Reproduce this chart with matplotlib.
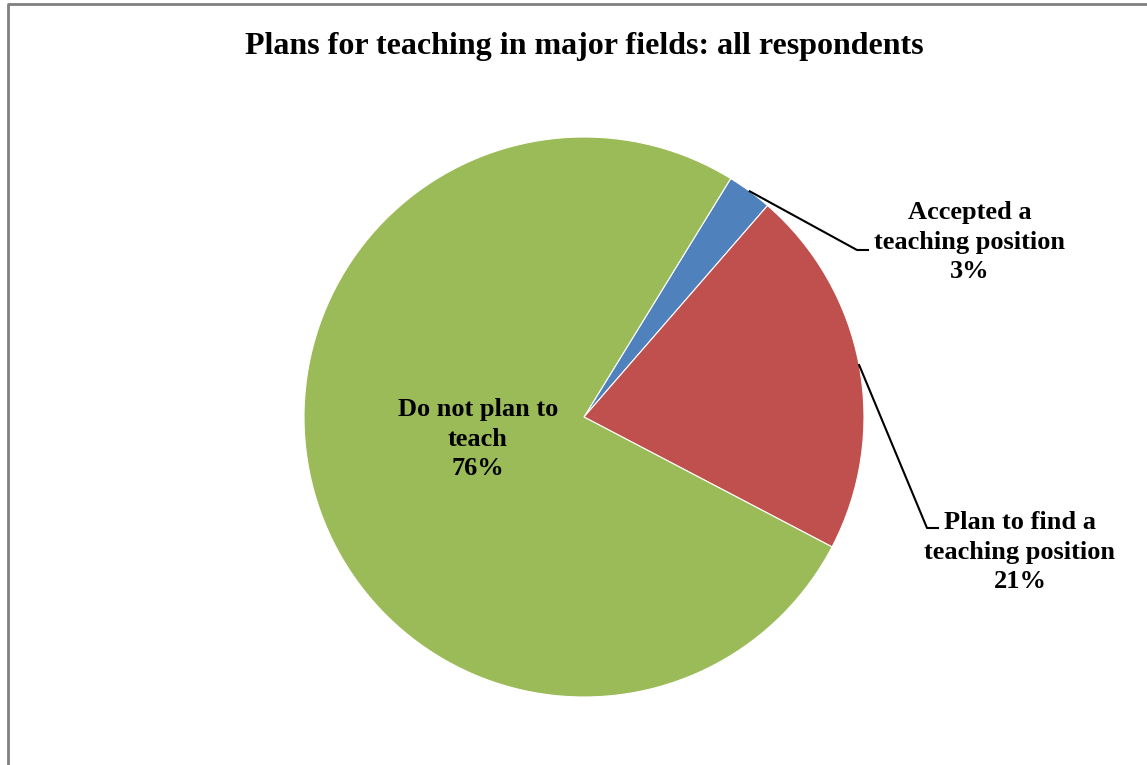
import numpy as np
import matplotlib.pyplot as plt

# Survey shares (clockwise from the top right)
labels = ['Accepted a\nteaching position', 'Plan to find a\nteaching position', 'Do not plan to\nteach']
shares = [2.6, 21.3, 76.1]
colors = ['#4F81BD', '#C0504D', '#9BBB59']
title = 'Plans for teaching in major fields: all respondents'

W, H = 1147, 765
start = 58.4
cx, cy, r = 584, H - 417, 280

fig = plt.figure(figsize=(W / 100, H / 100), dpi=100)
ax = fig.add_axes([0, 0, 1, 1])
wedges, _ = ax.pie(shares, colors=colors, startangle=start, counterclock=False,
                   center=(cx, cy), radius=r,
                   wedgeprops=dict(edgecolor='white', linewidth=0.8))
ax.set_xlim(0, W)
ax.set_ylim(0, H)
ax.set_aspect('equal')
ax.axis('off')

font = dict(family='Liberation Serif', weight='bold', fontsize=19,
            ha='center', va='center', linespacing=1.38)

pct = [f'{round(s)}%' for s in shares]

# leader lines start at the middle of each outer arc
def arc_mid(w):
    a = np.deg2rad((w.theta1 + w.theta2) / 2)
    return cx + r * np.cos(a), cy + r * np.sin(a)

# Accepted a teaching position
x0, y0 = arc_mid(wedges[0])
ax.plot([x0, 857, 868], [y0, H - 250, H - 250], color='black', lw=1.5)
ax.text(970, H - 242, labels[0] + '\n' + pct[0], **font)

# Plan to find a teaching position
x0, y0 = arc_mid(wedges[1])
ax.plot([x0, 927, 938], [y0, H - 528, H - 528], color='black', lw=1.5)
ax.text(1020, H - 552, labels[1] + '\n' + pct[1], **font)

# Do not plan to teach
ax.text(478, H - 439, labels[2] + '\n' + pct[2], **font)

ax.text(584, H - 46, title, family='Liberation Serif', weight='bold',
        fontsize=23, ha='center', va='center')

# frame of the chart area (cut off at the bottom)
ax.plot([8, 8, W + 5], [-5, H - 4, H - 4], color='#808080', lw=2)

fig.savefig('out.png', dpi=100)
